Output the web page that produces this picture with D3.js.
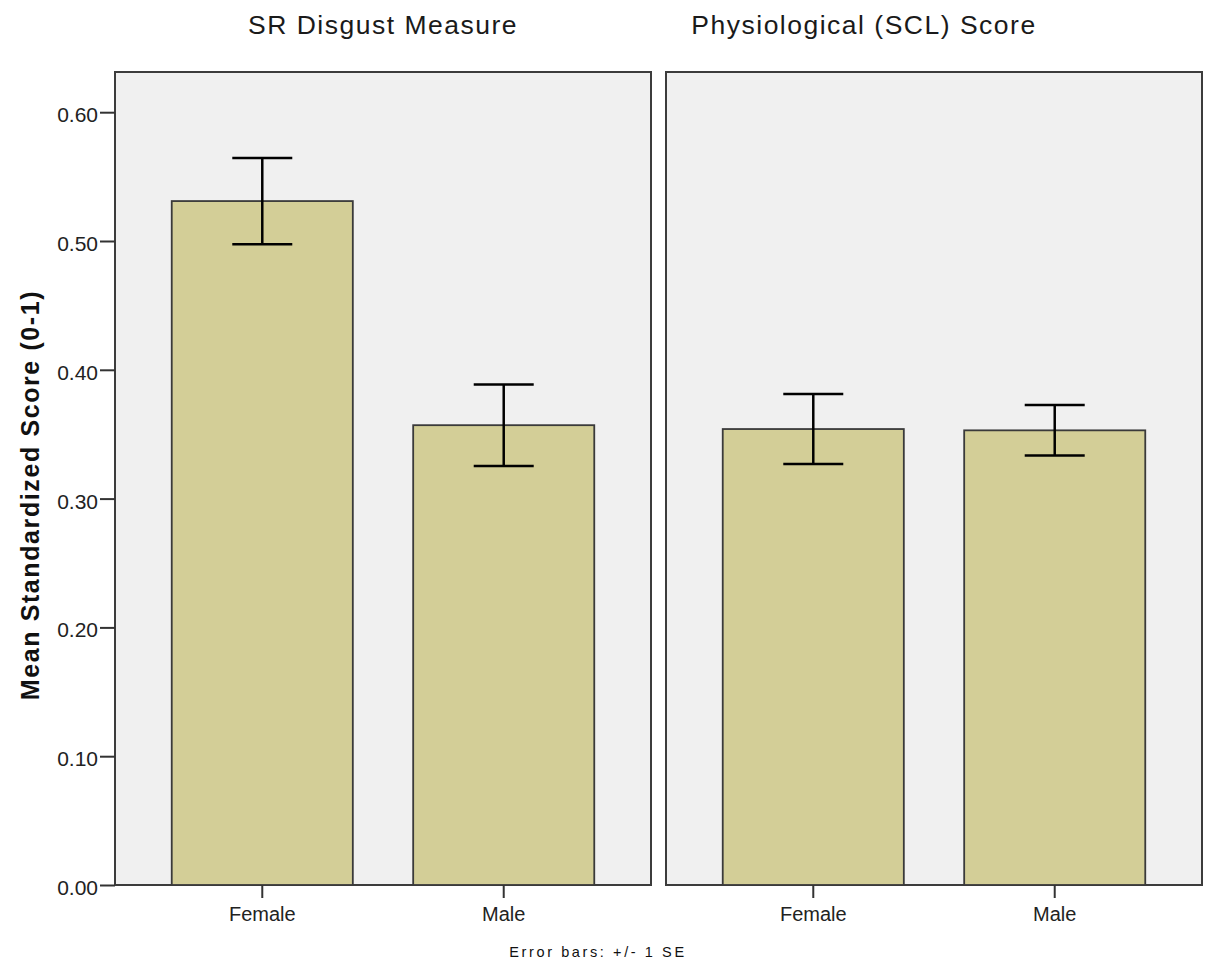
<!DOCTYPE html>
<html>
<head>
<meta charset="utf-8">
<script src="https://cdn.jsdelivr.net/npm/d3@7"></script>
<style>
  body { margin: 0; background: #fff; }
  svg { display: block; font-family: Arial, "Liberation Sans", sans-serif; }
</style>
</head>
<body>
<svg id="chart" width="1213" height="965"></svg>
<script>
// values
const panels = ['SR Disgust Measure', 'Physiological (SCL) Score'];
const genders = ['Female', 'Male'];
const srMeans = [0.531, 0.357];
const srSE = [0.0335, 0.0316];
const sclMeans = [0.354, 0.353];
const sclSE = [0.0272, 0.0196];
const yTicks = [0, 0.1, 0.2, 0.3, 0.4, 0.5, 0.6];

const rows = [
  { panel: panels[0], means: srMeans, se: srSE },
  { panel: panels[1], means: sclMeans, se: sclSE },
];

const plotLeft = 115;
const plotRight = 1202;
const plotTop = 72;
const plotBottom = 885;
const titleShift = [0, -70];

const svg = d3.select('#chart');

const xPanel = d3.scaleBand()
  .domain(panels)
  .range([plotLeft, plotRight])
  .paddingInner(15 / 551);

const y = d3.scaleLinear()
  .domain([0, 0.6])
  .range([plotBottom, plotBottom - 6 * 128.8]);

const xBar = d3.scaleBand()
  .domain(genders)
  .range([0, xPanel.bandwidth()])
  .paddingInner(0.25)
  .paddingOuter(0.235);

const capHalf = 30;

// panels
const g = svg.selectAll('g.panel')
  .data(rows)
  .join('g')
  .attr('class', 'panel')
  .attr('transform', d => `translate(${xPanel(d.panel)},0)`);

g.append('rect')
  .attr('x', 0)
  .attr('y', plotTop)
  .attr('width', xPanel.bandwidth())
  .attr('height', plotBottom - plotTop)
  .attr('fill', '#f0f0f0')
  .attr('stroke', '#3c3c3c')
  .attr('stroke-width', 2);

g.append('text')
  .attr('x', (d, i) => xPanel.bandwidth() / 2 + titleShift[i])
  .attr('y', 34)
  .attr('text-anchor', 'middle')
  .attr('font-size', 26.5)
  .attr('letter-spacing', 1.5)
  .attr('fill', '#1a1a1a')
  .text(d => d.panel);

// bars
g.selectAll('rect.bar')
  .data(d => d.means.map((m, i) => ({ gender: genders[i], mean: m, se: d.se[i] })))
  .join('rect')
  .attr('class', 'bar')
  .attr('x', d => xBar(d.gender))
  .attr('y', d => y(d.mean))
  .attr('width', xBar.bandwidth())
  .attr('height', d => y(0) - y(d.mean))
  .attr('fill', '#d3ce97')
  .attr('stroke', '#3a3a3a')
  .attr('stroke-width', 1.8);

// error bars
const eb = g.selectAll('g.err')
  .data(d => d.means.map((m, i) => ({ gender: genders[i], mean: m, se: d.se[i] })))
  .join('g')
  .attr('class', 'err')
  .attr('transform', d => `translate(${xBar(d.gender) + xBar.bandwidth() / 2},0)`)
  .attr('stroke', '#000')
  .attr('stroke-width', 2.5);

eb.append('line')
  .attr('y1', d => y(d.mean + d.se))
  .attr('y2', d => y(d.mean - d.se));
eb.append('line')
  .attr('x1', -capHalf).attr('x2', capHalf)
  .attr('y1', d => y(d.mean + d.se)).attr('y2', d => y(d.mean + d.se));
eb.append('line')
  .attr('x1', -capHalf).attr('x2', capHalf)
  .attr('y1', d => y(d.mean - d.se)).attr('y2', d => y(d.mean - d.se));

// x axes
g.append('g')
  .attr('transform', `translate(0,${plotBottom})`)
  .call(d3.axisBottom(xBar).tickSize(13).tickSizeOuter(0))
  .call(a => a.select('.domain').remove())
  .call(a => a.selectAll('line').attr('stroke', '#333').attr('stroke-width', 2))
  .call(a => a.selectAll('text')
    .attr('font-size', 20)
    .attr('font-family', null)
    .attr('fill', '#222')
    .attr('y', 36)
    .attr('dy', null));

// y axis
svg.append('g')
  .attr('transform', `translate(${plotLeft},0)`)
  .call(d3.axisLeft(y).tickValues(yTicks).tickFormat(d3.format('.2f')).tickSize(15))
  .call(a => a.select('.domain').remove())
  .call(a => a.selectAll('line').attr('stroke', '#333').attr('stroke-width', 2))
  .call(a => a.selectAll('text')
    .attr('font-size', 21)
    .attr('font-family', null)
    .attr('fill', '#222')
    .attr('x', -17)
    .attr('dy', '0.45em'));

svg.append('text')
  .attr('transform', `translate(39,495) rotate(-90)`)
  .attr('text-anchor', 'middle')
  .attr('font-size', 25)
  .attr('font-weight', 'bold')
  .attr('letter-spacing', 1.6)
  .attr('fill', '#111')
  .text('Mean Standardized Score (0-1)');

svg.append('text')
  .attr('x', 598)
  .attr('y', 957)
  .attr('text-anchor', 'middle')
  .attr('font-size', 14.5)
  .attr('letter-spacing', 2.6)
  .attr('fill', '#111')
  .text('Error bars: +/- 1 SE');
</script>
</body>
</html>
